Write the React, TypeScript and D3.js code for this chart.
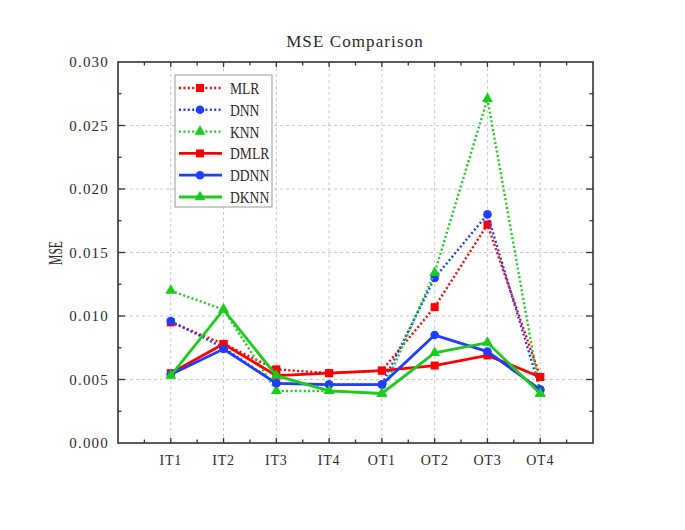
import React, { useEffect, useRef } from 'react';
import * as d3 from 'd3';

const categories = ['IT1', 'IT2', 'IT3', 'IT4', 'OT1', 'OT2', 'OT3', 'OT4'];
const yTicks = [0, 0.005, 0.01, 0.015, 0.02, 0.025, 0.03];

const mlr = [0.0095, 0.0078, 0.0058, 0.0055, 0.0057, 0.0107, 0.0172, 0.0052];
const dnn = [0.0096, 0.0075, 0.0047, 0.0046, 0.0046, 0.0130, 0.0180, 0.0042];
const knn = [0.0120, 0.0105, 0.0041, 0.0041, 0.0039, 0.0134, 0.0271, 0.0039];
const dmlr = [0.0055, 0.0078, 0.0053, 0.0055, 0.0057, 0.0061, 0.0069, 0.0052];
const ddnn = [0.0054, 0.0074, 0.0047, 0.0046, 0.0046, 0.0085, 0.0072, 0.0042];
const dknn = [0.0053, 0.0105, 0.0053, 0.0041, 0.0039, 0.0071, 0.0079, 0.0039];

const RED = '#ff0000';
const BLUE = '#1f3dff';
const GREEN = '#1ccc1c';

const series = [
  { name: 'MLR', values: mlr, color: RED, dotted: true, shape: d3.symbolSquare },
  { name: 'DNN', values: dnn, color: BLUE, dotted: true, shape: d3.symbolCircle },
  { name: 'KNN', values: knn, color: GREEN, dotted: true, shape: d3.symbolTriangle },
  { name: 'DMLR', values: dmlr, color: RED, dotted: false, shape: d3.symbolSquare },
  { name: 'DDNN', values: ddnn, color: BLUE, dotted: false, shape: d3.symbolCircle },
  { name: 'DKNN', values: dknn, color: GREEN, dotted: false, shape: d3.symbolTriangle },
];

const symbolSize = (shape: any) =>
  shape === d3.symbolSquare ? 64 : shape === d3.symbolCircle ? 58 : 52;

export default function App() {
  const ref = useRef<SVGSVGElement>(null);

  useEffect(() => {
    const svg = d3.select(ref.current);
    svg.selectAll('*').remove();

    // plot frame
    const left = 118, right = 593, top = 62, bottom = 443;

    const x = d3.scaleLinear().domain([0, categories.length + 1]).range([left, right]);
    const y = d3.scaleLinear().domain([0, 0.03]).range([bottom, top]);

    const serif = "'Liberation Serif', serif";
    const textColor = '#2a2a2a';

    // grid
    const grid = svg.append('g')
      .attr('stroke', '#c8c8c8')
      .attr('stroke-width', 1)
      .attr('stroke-dasharray', '3,3');
    categories.forEach((c, i) => {
      grid.append('line')
        .attr('x1', x(i + 1)).attr('x2', x(i + 1))
        .attr('y1', top).attr('y2', bottom);
    });
    yTicks.slice(1, -1).forEach(t => {
      grid.append('line')
        .attr('x1', left).attr('x2', right)
        .attr('y1', y(t)).attr('y2', y(t));
    });

    // ticks (inward, all four sides)
    const ticks = svg.append('g').attr('stroke', '#333').attr('stroke-width', 1.3);
    for (let i = 1; i <= categories.length * 2 + 1; i++) {
      const v = i / 2;
      const len = i % 2 === 0 ? 5 : 3.5;
      ticks.append('line').attr('x1', x(v)).attr('x2', x(v)).attr('y1', bottom).attr('y2', bottom - len);
      ticks.append('line').attr('x1', x(v)).attr('x2', x(v)).attr('y1', top).attr('y2', top + len);
    }
    for (let i = 1; i < (yTicks.length - 1) * 2; i++) {
      const v = i * 0.0025;
      const len = i % 2 === 0 ? 7 : 3.5;
      ticks.append('line').attr('x1', left).attr('x2', left + len).attr('y1', y(v)).attr('y2', y(v));
      ticks.append('line').attr('x1', right).attr('x2', right - len).attr('y1', y(v)).attr('y2', y(v));
    }

    // frame
    svg.append('rect')
      .attr('x', left).attr('y', top)
      .attr('width', right - left).attr('height', bottom - top)
      .attr('fill', 'none')
      .attr('stroke', '#333')
      .attr('stroke-width', 1.6);

    // tick labels
    svg.append('g').selectAll('text')
      .data(yTicks)
      .join('text')
      .attr('x', left - 9)
      .attr('y', d => y(d) + 5)
      .attr('text-anchor', 'end')
      .attr('font-family', serif)
      .attr('font-size', 15)
      .attr('letter-spacing', 1.2)
      .attr('fill', textColor)
      .text(d => d3.format('.3f')(d));

    svg.append('g').selectAll('text')
      .data(categories)
      .join('text')
      .attr('x', (d, i) => x(i + 1))
      .attr('y', bottom + 22)
      .attr('text-anchor', 'middle')
      .attr('font-family', serif)
      .attr('font-size', 14)
      .attr('letter-spacing', 0.8)
      .attr('fill', textColor)
      .text(d => d);

    // title and axis label
    svg.append('text')
      .attr('x', 355).attr('y', 47)
      .attr('text-anchor', 'middle')
      .attr('font-family', serif)
      .attr('font-size', 17)
      .attr('letter-spacing', 1.1)
      .attr('fill', textColor)
      .text('MSE Comparison');

    svg.append('text')
      .attr('transform', 'translate(62,253) rotate(-90)')
      .attr('text-anchor', 'middle')
      .attr('font-family', serif)
      .attr('font-size', 19)
      .attr('textLength', 24)
      .attr('lengthAdjust', 'spacingAndGlyphs')
      .attr('fill', textColor)
      .text('MSE');

    // lines and markers
    const line = d3.line<number>()
      .x((d, i) => x(i + 1))
      .y(d => y(d));

    series.forEach(s => {
      const g = svg.append('g');
      g.append('path')
        .attr('d', line(s.values))
        .attr('fill', 'none')
        .attr('stroke', s.color)
        .attr('stroke-width', s.dotted ? 2.4 : 2.8)
        .attr('stroke-dasharray', s.dotted ? '2,2.4' : null);
      g.selectAll('path.m')
        .data(s.values)
        .join('path')
        .attr('class', 'm')
        .attr('transform', (d, i) => `translate(${x(i + 1)},${y(d)})`)
        .attr('d', d3.symbol().type(s.shape).size(symbolSize(s.shape))())
        .attr('fill', s.color);
    });

    // legend
    const legend = svg.append('g');
    legend.append('rect')
      .attr('x', 175).attr('y', 75)
      .attr('width', 97).attr('height', 132)
      .attr('fill', 'white')
      .attr('stroke', '#999')
      .attr('stroke-width', 1);
    series.forEach((s, i) => {
      const ly = 88 + i * 21.8;
      legend.append('line')
        .attr('x1', 179).attr('x2', 222)
        .attr('y1', ly).attr('y2', ly)
        .attr('stroke', s.color)
        .attr('stroke-width', s.dotted ? 2.4 : 2.8)
        .attr('stroke-dasharray', s.dotted ? '2,2.4' : null);
      legend.append('path')
        .attr('transform', `translate(200,${ly})`)
        .attr('d', d3.symbol().type(s.shape).size(symbolSize(s.shape))())
        .attr('fill', s.color);
      legend.append('text')
        .attr('transform', `translate(230,${ly + 6}) scale(0.8,1)`)
        .attr('font-family', serif)
        .attr('font-size', 17)
        .attr('fill', textColor)
        .text(s.name);
    });
  }, []);

  return (
    <svg
      ref={ref}
      width={685}
      height={530}
      style={{ position: 'absolute', left: 0, top: 0, background: 'white' }}
    />
  );
}
